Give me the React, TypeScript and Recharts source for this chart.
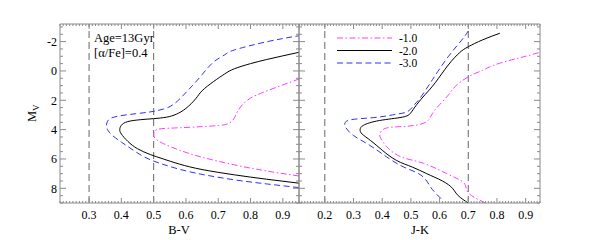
import React from 'react';
import { LineChart, Line, XAxis, YAxis, ReferenceLine } from 'recharts';

const FONT = '"Liberation Serif", "Times New Roman", Times, serif';
const AXIS = '#8a8a8a';

// ---- tick labels / categories ----
const yTickLabels = [-2, 0, 2, 4, 6, 8];
const bvTickLabels = [0.3, 0.4, 0.5, 0.6, 0.7, 0.8, 0.9];
const jkTickLabels = [0.2, 0.3, 0.4, 0.5, 0.6, 0.7, 0.8, 0.9];
const seriesNames = ['-1.0', '-2.0', '-3.0'];
const bvGuides = [0.3, 0.5];
const jkGuides = [0.2, 0.7];

// ---- series values: [colour index, M_V] ----
const bvFeHm1: [number, number][] = [
  [0.95, 7.16], [0.85, 6.82], [0.75, 6.4], [0.65, 5.88], [0.58, 5.4], [0.53, 4.95],
  [0.505, 4.6], [0.5, 4.3], [0.51, 4.0], [0.55, 3.9], [0.62, 3.83], [0.7, 3.72],
  [0.735, 3.55], [0.75, 3.2], [0.76, 2.75], [0.775, 2.3], [0.8, 1.85], [0.84, 1.45],
  [0.9, 0.95], [0.95, 0.55],
];
const bvFeHm2: [number, number][] = [
  [0.95, 7.65], [0.85, 7.38], [0.75, 7.08], [0.65, 6.72], [0.58, 6.35], [0.53, 6.0],
  [0.49, 5.7], [0.45, 5.3], [0.42, 4.8], [0.4, 4.3], [0.395, 4.0], [0.4, 3.7],
  [0.42, 3.45], [0.46, 3.32], [0.5, 3.25], [0.54, 3.15], [0.57, 2.95], [0.6, 2.55],
  [0.63, 1.9], [0.65, 1.35], [0.685, 0.73], [0.72, 0.2], [0.75, -0.15], [0.8, -0.5],
  [0.85, -0.78], [0.9, -1.03], [0.95, -1.27],
];
const bvFeHm3: [number, number][] = [
  [0.95, 7.95], [0.85, 7.7], [0.75, 7.42], [0.65, 7.05], [0.58, 6.7], [0.52, 6.3],
  [0.47, 5.85], [0.43, 5.3], [0.4, 4.85], [0.37, 4.35], [0.355, 3.9], [0.355, 3.55],
  [0.37, 3.2], [0.42, 2.98], [0.47, 2.85], [0.5, 2.75], [0.53, 2.6], [0.56, 2.3],
  [0.59, 1.7], [0.62, 1.0], [0.65, 0.25], [0.685, -0.6], [0.72, -1.1], [0.75, -1.43],
  [0.85, -1.99], [0.95, -2.4],
];
const jkFeHm1: [number, number][] = [
  [0.76, 9.0], [0.72, 8.6], [0.695, 8.15], [0.683, 7.6], [0.625, 7.0], [0.545, 6.3],
  [0.465, 5.85], [0.415, 5.15], [0.395, 4.6], [0.392, 4.3], [0.41, 3.92], [0.46, 3.8],
  [0.51, 3.72], [0.555, 3.45], [0.575, 2.9], [0.6, 2.3], [0.63, 1.65], [0.655, 1.05],
  [0.7, 0.4], [0.75, -0.05], [0.79, -0.4], [0.85, -0.75], [0.9, -1.0], [0.95, -1.27],
];
const jkFeHm2: [number, number][] = [
  [0.7, 9.0], [0.665, 8.5], [0.645, 8.0], [0.61, 7.5], [0.555, 7.0], [0.505, 6.55],
  [0.45, 6.1], [0.4, 5.4], [0.36, 4.75], [0.33, 4.3], [0.323, 4.0], [0.335, 3.7],
  [0.39, 3.38], [0.47, 3.15], [0.5, 2.85], [0.52, 2.3], [0.55, 1.6], [0.585, 0.8],
  [0.63, -0.4], [0.67, -1.25], [0.7, -1.65], [0.75, -2.12], [0.81, -2.57],
];
const jkFeHm3: [number, number][] = [
  [0.605, 8.7], [0.58, 8.2], [0.565, 7.8], [0.535, 7.1], [0.475, 6.55], [0.415, 5.85],
  [0.355, 5.05], [0.3, 4.4], [0.272, 3.8], [0.285, 3.35], [0.37, 3.18], [0.45, 2.95],
  [0.49, 2.75], [0.51, 2.35], [0.53, 1.9], [0.56, 1.05], [0.585, 0.3], [0.63, -0.97],
  [0.677, -2.1], [0.7, -2.72],
];

// ---- styling ----
const seriesStyles = [
  { stroke: '#ff3cff', dash: '6 2.5 1.5 2.5' },
  { stroke: '#000000', dash: undefined as string | undefined },
  { stroke: '#2f2fff', dash: '6 3.5' },
];

const Y_DOMAIN: [number, number] = [-3.2, 9];
const BV_DOMAIN: [number, number] = [0.21, 0.95];
const JK_DOMAIN: [number, number] = [0.11, 0.95];

const range = (a: number, b: number) => {
  const out: number[] = [];
  for (let i = a; i <= b; i++) out.push(i);
  return out;
};
const bvMinor = range(21, 95).map((i) => i / 100);
const jkMinor = range(11, 95).map((i) => i / 100);
const yMinor = range(-6, 18).map((i) => i / 2);

const near = (list: number[], v: number) => list.some((l) => Math.abs(l - v) < 1e-6);
const toPts = (arr: [number, number][]) => arr.map(([x, y]) => ({ x, y }));

const tickStyle = { fontFamily: FONT, fontSize: 12, fill: '#000' };
const textStyle = { fontFamily: FONT, fontSize: 12.5, fill: '#000' };
const legendStyle = { fontFamily: FONT, fontSize: 11.5, fill: '#000' };

const makeXTick = (labels: number[], showLabels: boolean, dir: 'bottom' | 'top') => (props: any) => {
  const { x, y, payload } = props;
  const v = payload.value as number;
  const major = near(labels, v);
  const len = major ? 5 : 2;
  const s = dir === 'bottom' ? -1 : 1;
  return (
    <g>
      <line x1={x} x2={x} y1={y} y2={y + s * len} stroke={AXIS} strokeWidth={1} />
      {showLabels && major ? (
        <text x={x} y={y + 16} textAnchor="middle" style={tickStyle}>
          {v.toFixed(1)}
        </text>
      ) : null}
    </g>
  );
};

const makeYTick = (showLabels: boolean, dir: 'left' | 'right') => (props: any) => {
  const { x, y, payload } = props;
  const v = payload.value as number;
  const major = near(yTickLabels, v);
  const len = major ? 6 : 3;
  const s = dir === 'left' ? 1 : -1;
  return (
    <g>
      <line x1={x} x2={x + s * len} y1={y} y2={y} stroke={AXIS} strokeWidth={1} />
      {showLabels && major ? (
        <text x={x - 3} y={y} dy="0.36em" textAnchor="end" style={tickStyle}>
          {String(v)}
        </text>
      ) : null}
    </g>
  );
};

function axes(domain: [number, number], minor: number[], labels: number[], showY: boolean) {
  return [
    <XAxis key="xb" xAxisId="b" dataKey="x" type="number" orientation="bottom" domain={domain}
      allowDataOverflow ticks={minor} interval={0} height={1} tickSize={0} tickMargin={0}
      tickLine={false} axisLine={{ stroke: AXIS }} tick={makeXTick(labels, true, 'bottom')} />,
    <XAxis key="xt" xAxisId="t" dataKey="x" type="number" orientation="top" domain={domain}
      allowDataOverflow ticks={minor} interval={0} height={1} tickSize={0} tickMargin={0}
      tickLine={false} axisLine={{ stroke: AXIS }} tick={makeXTick(labels, false, 'top')} />,
    <YAxis key="yl" yAxisId="l" dataKey="y" type="number" orientation="left" domain={Y_DOMAIN}
      reversed allowDataOverflow ticks={yMinor} interval={0} width={1} tickSize={0} tickMargin={0}
      tickLine={false} axisLine={{ stroke: AXIS }} tick={makeYTick(showY, 'left')} />,
    <YAxis key="yr" yAxisId="r" dataKey="y" type="number" orientation="right" domain={Y_DOMAIN}
      reversed allowDataOverflow ticks={yMinor} interval={0} width={1} tickSize={0} tickMargin={0}
      tickLine={false} axisLine={{ stroke: AXIS }} tick={makeYTick(false, 'right')} />,
  ];
}

function lines(sets: [number, number][][], prefix: string) {
  return sets.map((s, i) => (
    <Line key={prefix + i} name={seriesNames[i]} data={toPts(s)} dataKey="y" xAxisId="b" yAxisId="l"
      type="natural" stroke={seriesStyles[i].stroke} strokeWidth={1}
      strokeDasharray={seriesStyles[i].dash} dot={false} activeDot={false}
      isAnimationActive={false} />
  ));
}

function guides(vals: number[]) {
  return vals.map((v) => (
    <ReferenceLine key={'g' + v} x={v} xAxisId="b" yAxisId="l" stroke="#666" strokeWidth={1}
      strokeDasharray="7 4" />
  ));
}

export default function App() {
  return (
    <div style={{ position: 'fixed', left: 0, top: 0, width: 600, height: 240, background: '#fff' }}>
      <div style={{ position: 'absolute', left: 0, top: 0 }}>
        <LineChart width={300} height={240} margin={{ top: 23, right: 0, bottom: 36, left: 59 }}>
          {axes(BV_DOMAIN, bvMinor, bvTickLabels, true)}
          {guides(bvGuides)}
          {lines([bvFeHm1, bvFeHm2, bvFeHm3], 'bv')}
          <text x={94} y={42} style={textStyle}>Age=13Gyr</text>
          <text x={94} y={57} style={textStyle}>[α/Fe]=0.4</text>
          <text x={179} y={234} textAnchor="middle" style={textStyle}>B-V</text>
          <text transform="translate(36,122) rotate(-90)" style={textStyle}>
            M<tspan dy={3} fontSize={9}>V</tspan>
          </text>
        </LineChart>
      </div>
      <div style={{ position: 'absolute', left: 0, top: 0 }}>
        <LineChart width={600} height={240} margin={{ top: 23, right: 59, bottom: 36, left: 298 }}>
          {axes(JK_DOMAIN, jkMinor, jkTickLabels, false)}
          {guides(jkGuides)}
          {lines([jkFeHm1, jkFeHm2, jkFeHm3], 'jk')}
          <text x={420} y={234} textAnchor="middle" style={textStyle}>J-K</text>
          {seriesNames.map((n, i) => (
            <g key={'lg' + i}>
              <line x1={337} x2={392} y1={38 + i * 12.5} y2={38 + i * 12.5}
                stroke={seriesStyles[i].stroke} strokeDasharray={seriesStyles[i].dash} />
              <text x={399} y={38 + i * 12.5 + 4} style={legendStyle}>{n}</text>
            </g>
          ))}
        </LineChart>
      </div>
    </div>
  );
}
